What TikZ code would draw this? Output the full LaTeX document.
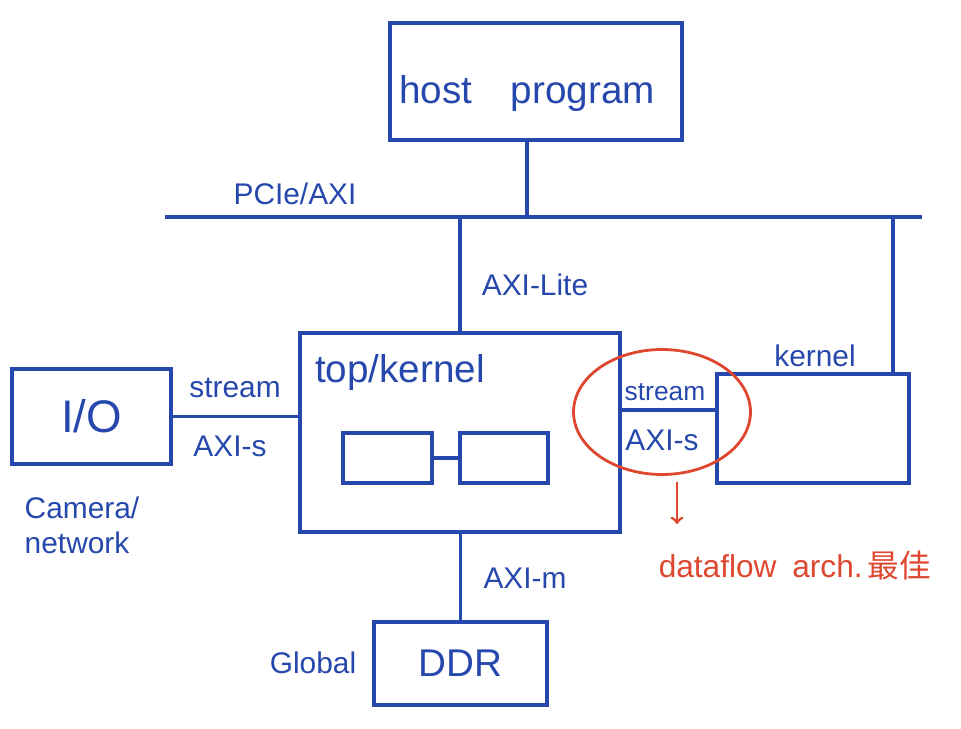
\documentclass[tikz,border=0pt]{standalone}
\usepackage{fontspec}
\setmainfont{Liberation Sans}
\newfontfamily\cjk{Noto Sans CJK SC}
\usetikzlibrary{shapes.geometric}
\definecolor{ink}{RGB}{38,72,172}
\definecolor{pen}{RGB}{222,72,48}

\begin{document}
\begin{tikzpicture}[
        x=0.02cm, y=-0.02cm,
        every node/.style={font=\fontsize{17}{20}\selectfont, text=ink},
        box/.style={
            draw=ink,
            line width=1.8pt,
            inner sep=0pt
        },
        lbl/.style={inner sep=1pt},
        big/.style={font=\fontsize{22}{26}\selectfont},
        wire/.style={draw=ink, line width=1.8pt},
        remark/.style={draw=pen, line width=1.6pt}
    ]
    \useasboundingbox (0,0) rectangle (961,729);

    % Host and bus
    \node[box, minimum width=5.84cm, minimum height=2.34cm] (host) at (536,81.5) {};
    \node[lbl, big] (hostlbl) at (527,94) {host\quad program};
    \coordinate (busL) at (165,217);
    \coordinate (busR) at (922,217);
    \coordinate (hbus) at (527,217);
    \draw[wire] (busL) -- (busR);
    \draw[wire] (hbus) -- (hbus |- host.south);
    \node[lbl] (pcie) at (295,194) {PCIe/AXI};

    % top/kernel
    \node[box, minimum width=6.40cm, minimum height=3.98cm] (top) at (460,432.5) {};
    \node[lbl, big] (toplbl) at (400,373) {top/kernel};
    \node[box, minimum width=1.78cm, minimum height=1.0cm] (subA) at (387.5,458) {};
    \node[box, minimum width=1.76cm, minimum height=1.0cm] (subB) at (504,458) {};
    \draw[wire] (subA) -- (subB);
    \draw[wire] (top.north) -- (top.north |- busL);
    \node[lbl] (lite) at (535,285) {AXI-Lite};

    % I/O side
    \node[box, minimum width=3.18cm, minimum height=1.9cm, font=\fontsize{26}{30}\selectfont] (io) at (91.5,416.5) {I/O};
    \draw[wire] (io.east) -- (io.east -| top.west);
    \node[lbl] (ios1) at (235,388) {stream};
    \node[lbl] (ios2) at (230,446) {AXI-s};
    \node[lbl, align=left] (cam) at (82,525) {Camera/\\network};

    % kernel on the right
    \node[box, minimum width=3.84cm, minimum height=2.18cm] (kernel) at (813,428.5) {};
    \node[lbl] (klbl) at (815,356) {kernel};
    \coordinate (kbus) at (893,217);
    \draw[wire] (kbus) -- (kbus |- kernel.north);
    \coordinate (s2) at (618,410);
    \draw[wire] (s2) -- (s2 -| kernel.west);
    \node[lbl, font=\fontsize{15}{18}\selectfont] (ks1) at (665,392) {stream};
    \node[lbl] (ks2) at (662,440) {AXI-s};

    % remark
    \node[ellipse, remark, minimum width=3.54cm, minimum height=2.5cm] (ring) at (662,412) {};
    \node[lbl, text=pen, font=\fontsize{18}{22}\selectfont] (note) at (795,565) {dataflow\enspace arch.\,{\cjk 最佳}};
    \coordinate (tip) at (677,482);
    \draw[remark, ->] (tip) -- (tip |- 0,524);

    % global memory
    \node[box, big, minimum width=3.46cm, minimum height=1.66cm] (ddr) at (460.5,663.5) {DDR};
    \draw[wire] (ddr.north) -- (ddr.north |- top.south);
    \node[lbl] (axim) at (525,578) {AXI-m};
    \node[lbl] (glob) at (313,663) {Global};
\end{tikzpicture}
\end{document}
